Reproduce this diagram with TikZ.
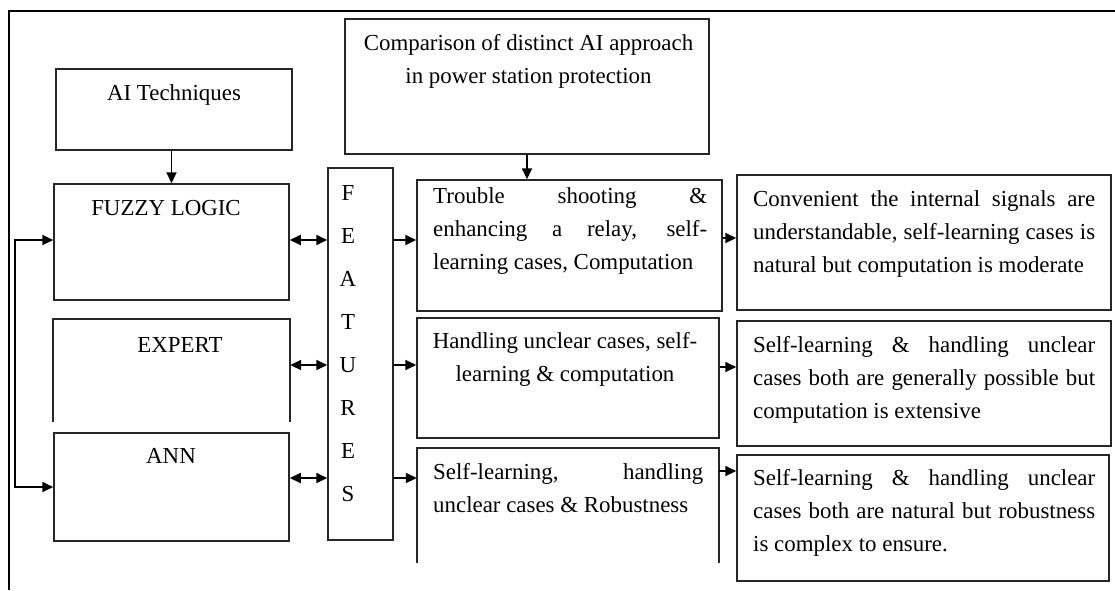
\documentclass[tikz,border=0pt]{standalone}
\usepackage{fontspec}
\setmainfont{Liberation Serif}
\usetikzlibrary{arrows.meta}

% one line of text stretched to a given width (inter-word spaces spread)
\newcommand{\jline}[2]{\hbox to #1{\spaceskip=0.25em plus 1fil\relax #2}}
% a stack of lines whose baseline is the first line
\newcommand{\lines}[1]{\vtop{\baselineskip=33pt #1}}

\begin{document}
\begin{tikzpicture}[x=1pt,y=-1pt,
  box/.style={draw=black!85,line width=1.5pt,rectangle,inner sep=0pt},
  open/.style={draw=black!85,line width=1.5pt},
  txt/.style={inner sep=0pt,font=\fontsize{22.9}{33}\selectfont},
  arr/.style={-{Triangle[length=11pt,width=10pt]},line width=1.8pt},
  darr/.style={{Triangle[length=11pt,width=10pt]}-{Triangle[length=11pt,width=10pt]},line width=1.8pt},
  frame/.style={line width=2.8pt}]
\useasboundingbox (0,0) rectangle (1115,590);

% outer frame (top and left only)
\draw[frame] (9,590) -- (9,11) -- (1115,11);

% row levels of the connectors
\coordinate (r1) at (0,240);
\coordinate (r2) at (0,365);
\coordinate (r3) at (0,478);
\coordinate (q1) at (0,238);
\coordinate (q2) at (0,367);
\coordinate (q3) at (0,471);

% left column
\node[box,minimum width=236pt,minimum height=81pt] (ai) at (174,109.5) {};
\node[txt,anchor=base] (aitxt) at (174,100) {AI Techniques};
\node[box,minimum width=235pt,minimum height=116pt] (fuzzy) at (171.5,242) {};
\node[txt,anchor=base] (fuzzytxt) at (166,215) {FUZZY LOGIC};
\node[inner sep=0pt,minimum width=237pt,minimum height=103pt] (expert) at (171.5,370.5) {};
\draw[open] (expert.south west) -- (expert.north west) -- (expert.north east) -- (expert.south east);
\node[txt,anchor=base] (experttxt) at (180,352) {EXPERT};
\node[box,minimum width=235pt,minimum height=108pt] (ann) at (171.5,487) {};
\node[txt,anchor=base] (anntxt) at (171,463) {ANN};

% FEATURES column
\node[box,minimum width=65pt,minimum height=372pt] (features) at (360.5,354) {};
\foreach \ch [count=\i from 0] in {F,E,A,T,U,R,E,S}
  \node[txt,anchor=base] (feat\i) at (348,200+43*\i) {\ch};

% heading and middle column
\node[box,minimum width=364pt,minimum height=135pt] (comp) at (527,86.5) {};
\node[txt,anchor=base] (comptxt) at (528.5,50)
  {\lines{\hbox to 0pt{\hss Comparison of distinct AI approach\hss}\hbox to 0pt{\hss in power station protection\hss}}};

\node[box,minimum width=305pt,minimum height=131pt] (trouble) at (569.5,245.5) {};
\node[txt,anchor=base west] (troubletxt) at (433,203)
  {\lines{\jline{274pt}{Trouble shooting \&}\jline{274pt}{enhancing a relay, self-}\hbox{learning cases, Computation}}};

\node[box,minimum width=302pt,minimum height=120pt] (handling) at (568,378) {};
\node[txt,anchor=base] (handlingtxt) at (565,348)
  {\lines{\hbox to 0pt{\hss Handling unclear cases, self-\hss}\hbox to 0pt{\hss learning \& computation\hss}}};

\node[inner sep=0pt,minimum width=302pt,minimum height=115pt] (selfl) at (568,505.5) {};
\draw[open] (selfl.south west) -- (selfl.north west) -- (selfl.north east) -- (selfl.south east);
\node[txt,anchor=base west] (selfltxt) at (433,479)
  {\lines{\jline{270pt}{Self-learning, handling}\hbox{unclear cases \& Robustness}}};

% right column
\node[box,minimum width=374pt,minimum height=135pt] (res1) at (924,242.5) {};
\node[txt,anchor=base west] (res1txt) at (753,206)
  {\lines{\jline{342pt}{Convenient the internal signals are}\jline{342pt}{understandable, self-learning cases is}\hbox{natural but computation is moderate}}};

\node[box,minimum width=374pt,minimum height=125pt] (res2) at (924,383.5) {};
\node[txt,anchor=base west] (res2txt) at (753,352)
  {\lines{\jline{342pt}{Self-learning \& handling unclear}\jline{342pt}{cases both are generally possible but}\hbox{computation is extensive}}};

\node[box,minimum width=372pt,minimum height=126pt] (res3) at (923,518) {};
\node[txt,anchor=base west] (res3txt) at (753,485)
  {\lines{\jline{342pt}{Self-learning \& handling unclear}\jline{342pt}{cases both are natural but robustness}\hbox{is complex to ensure.}}};

% connectors
\draw[arr] (fuzzy.north |- ai.south) -- (fuzzy.north);
\draw[arr] (comp.south) -- (comp.south |- trouble.north);
\draw[darr] (fuzzy.west |- r1) -- ++(-38,0) |- (ann.west);
\draw[darr] (fuzzy.east |- r1) -- (features.west |- r1);
\draw[darr] (expert.east |- r2) -- (features.west |- r2);
\draw[darr] (ann.east |- r3) -- (features.west |- r3);
\draw[arr] (features.east |- r1) -- (trouble.west |- r1);
\draw[arr] (features.east |- r2) -- (handling.west |- r2);
\draw[arr] (features.east |- r3) -- (selfl.west |- r3);
\draw[arr] (trouble.east |- q1) -- (res1.west |- q1);
\draw[arr] (handling.east |- q2) -- (res2.west |- q2);
\draw[arr] (selfl.east |- q3) -- (res3.west |- q3);
\end{tikzpicture}
\end{document}
